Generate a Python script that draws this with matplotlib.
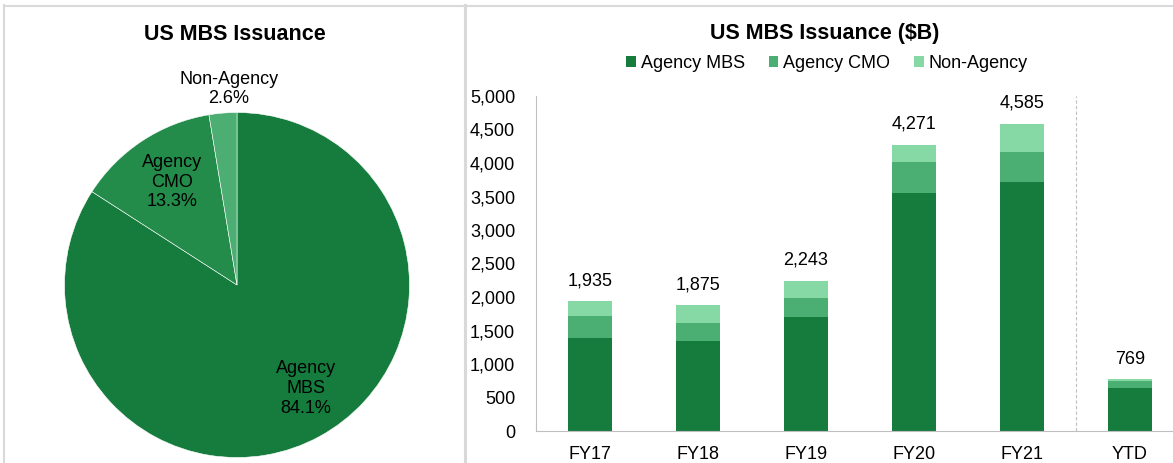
import matplotlib
matplotlib.use("Agg")
import matplotlib.pyplot as plt
from matplotlib.lines import Line2D
import numpy as np

plt.rcParams['font.family'] = ['Liberation Sans', 'DejaVu Sans']

# ---- data ----
pie_labels = ["Agency\nMBS", "Agency\nCMO", "Non-Agency"]
pie_shares = [84.1, 13.3, 2.6]

categories = ["FY17", "FY18", "FY19", "FY20", "FY21", "YTD"]
agency_mbs = [1395, 1340, 1700, 3555, 3712, 635]
agency_cmo = [315, 270, 285, 460, 449, 115]
non_agency = [225, 265, 258, 256, 424, 19]
totals = [1935, 1875, 2243, 4271, 4585, 769]
series_names = ["Agency MBS", "Agency CMO", "Non-Agency"]
yticks = [0, 500, 1000, 1500, 2000, 2500, 3000, 3500, 4000, 4500, 5000]

# ---- figure ----
W, H = 1173, 463
fig = plt.figure(figsize=(W / 100, H / 100), dpi=100)

def px_axes(left, top, width, height):
    return fig.add_axes([left / W, 1 - (top + height) / H, width / W, height / H])

border = "#D9D9D9"
fig.add_artist(Line2D([4 / W, 4 / W], [0, 1 - 5 / H], color=border, lw=1.5, transform=fig.transFigure))
fig.add_artist(Line2D([4 / W, 1], [1 - 5.5 / H, 1 - 5.5 / H], color=border, lw=1.5, transform=fig.transFigure))
fig.add_artist(Line2D([465 / W, 465 / W], [0, 1 - 5 / H], color=border, lw=2.2, transform=fig.transFigure))

FS = 13

# ---- pie ----
pie_colors = ["#157C3D", "#238C4A", "#4CAE72"]
r = 172.5
axp = px_axes(237 - r, 285 - r, 2 * r, 2 * r)
wedges, _ = axp.pie(pie_shares, colors=pie_colors, startangle=90, counterclock=False,
                    wedgeprops=dict(edgecolor="white", linewidth=0.4))
axp.set_xlim(-1, 1)
axp.set_ylim(-1, 1)
axp.set_aspect("auto")
axp.axis("off")

label_pos = [(0.40, -0.60), (-0.377, 0.597), (-0.046, 1.136)]
for lab, share, (lx, ly) in zip(pie_labels, pie_shares, label_pos):
    axp.text(lx, ly, f"{lab}\n{share:.1f}%", ha="center", va="center",
             fontsize=FS, color="black", linespacing=1.2)

fig.text(235 / W, 1 - 34 / H, "US MBS Issuance", ha="center", va="center",
         fontsize=15.5, fontweight="bold")

# ---- stacked bars ----
bar_colors = ["#157C3D", "#4BAE72", "#86D8A4"]
slot = 108.0
left_px = 536
axb = px_axes(left_px, 96, W - left_px, 335)
x = np.arange(len(categories))
bw = 0.405
b1 = axb.bar(x, agency_mbs, width=bw, color=bar_colors[0], label=series_names[0])
b2 = axb.bar(x, agency_cmo, width=bw, bottom=agency_mbs, color=bar_colors[1], label=series_names[1])
bottom2 = np.array(agency_mbs) + np.array(agency_cmo)
b3 = axb.bar(x, non_agency, width=bw, bottom=bottom2, color=bar_colors[2], label=series_names[2])

axb.set_xlim(-0.5, -0.5 + (W - left_px) / slot)
axb.set_ylim(0, 5000)
axb.set_yticks(yticks)
axb.set_yticklabels([f"{v:,}" for v in yticks])
axb.set_xticks(x)
axb.set_xticklabels(categories)
axb.tick_params(axis="y", length=0, pad=15, labelsize=FS)
axb.tick_params(axis="x", length=0, pad=10.5, labelsize=FS)
for s in ["top", "right"]:
    axb.spines[s].set_visible(False)
axb.spines["left"].set_color("#BFBFBF")
axb.spines["bottom"].set_color("#BFBFBF")

tops = np.array(agency_mbs) + np.array(agency_cmo) + np.array(non_agency)
for xi, t, lab in zip(x, tops, totals):
    axb.annotate(f"{lab:,}", (xi, t), xytext=(0, 11.5), textcoords="offset points",
                 ha="center", va="baseline", fontsize=FS)

axb.axvline(4.5, ymin=0, ymax=1, color="#BFBFBF", lw=0.8, ls=(0, (3, 2)))

fig.text(825 / W, 1 - 34 / H, "US MBS Issuance ($B)", ha="center", va="center",
         fontsize=15.5, fontweight="bold")
fig.legend(handles=[b1, b2, b3], labels=series_names, loc="center",
           bbox_to_anchor=(827 / W, 1 - 63 / H), ncol=3, frameon=False, fontsize=FS,
           handlelength=0.55, handleheight=0.55, handletextpad=0.28, columnspacing=1.3,
           borderpad=0, borderaxespad=0)

fig.savefig("out.png", dpi=100)
